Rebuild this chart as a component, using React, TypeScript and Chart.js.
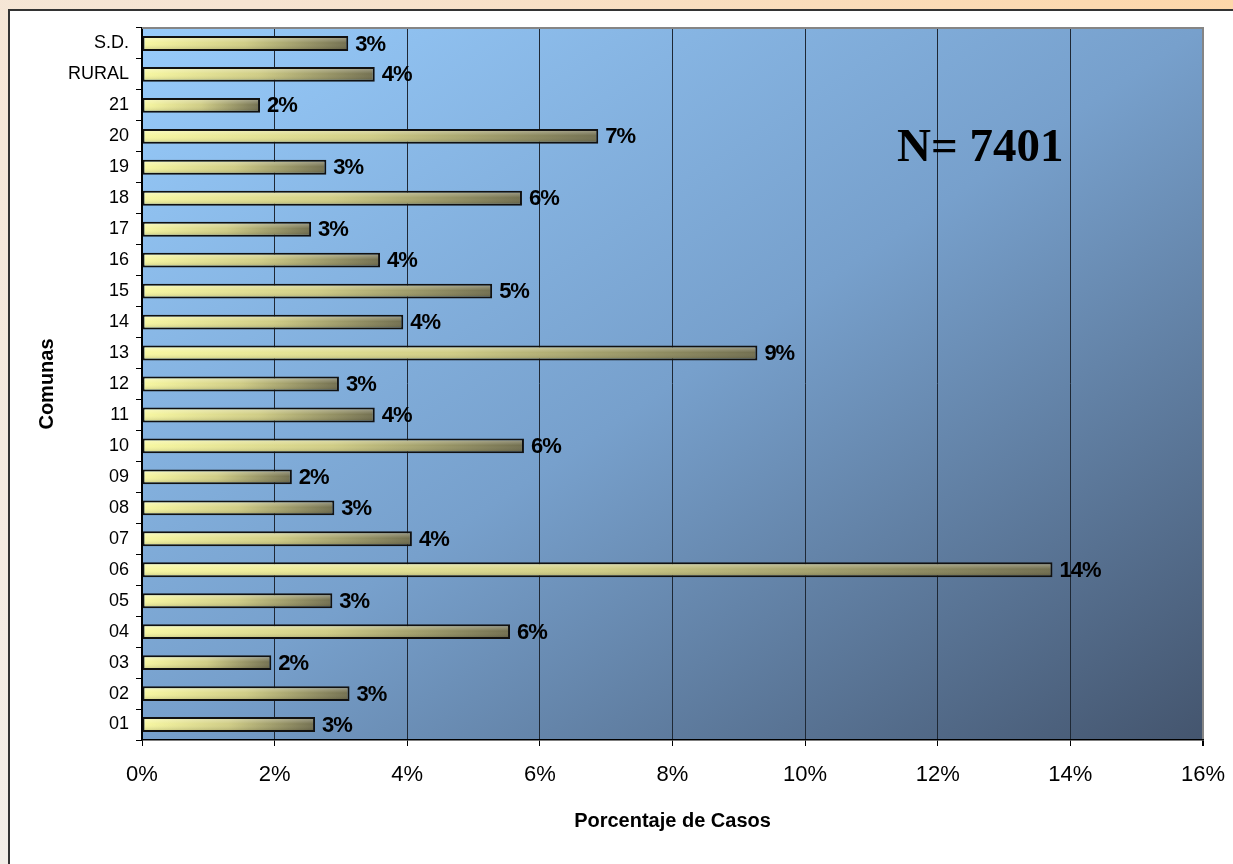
import React, { useEffect, useRef } from "react";
import { Chart, registerables } from "chart.js";

Chart.register(...registerables);

const categories = ["01", "02", "03", "04", "05", "06", "07", "08", "09", "10", "11", "12", "13", "14", "15", "16", "17", "18", "19", "20", "21", "RURAL", "S.D."];
const percentages = [2.61, 3.13, 1.95, 5.55, 2.87, 13.73, 4.07, 2.9, 2.26, 5.76, 3.51, 2.97, 9.28, 3.94, 5.28, 3.59, 2.55, 5.73, 2.78, 6.88, 1.78, 3.51, 3.11];
const xMin = 0;
const xMax = 16;
const xStep = 2;
const xTitle = "Porcentaje de Casos";
const yTitle = "Comunas";
const annotationText = "N= 7401";

const FONT = '"Liberation Sans", Arial, sans-serif';

const plotBgPlugin = {
  id: "plotBg",
  beforeDraw(chart: any) {
    const { ctx, chartArea } = chart;
    const { left, top, right, bottom } = chartArea;
    ctx.save();
    ctx.translate(left, top);
    ctx.scale(right - left, bottom - top);
    const g = ctx.createLinearGradient(0, 0, 1, 1);
    g.addColorStop(0, "#97CBFB");
    g.addColorStop(0.5, "#77A0CC");
    g.addColorStop(1, "#44556E");
    ctx.fillStyle = g;
    ctx.fillRect(0, 0, 1, 1);
    ctx.restore();
  },
  afterDraw(chart: any) {
    const { ctx, chartArea } = chart;
    const { left, top, right } = chartArea;
    ctx.save();
    ctx.strokeStyle = "#858585";
    ctx.lineWidth = 2;
    ctx.beginPath();
    ctx.moveTo(left, top);
    ctx.lineTo(right + 1, top);
    ctx.stroke();
    ctx.restore();
  },
};

const barDecorPlugin = {
  id: "barDecor",
  afterDatasetsDraw(chart: any) {
    const { ctx, chartArea } = chart;
    const meta = chart.getDatasetMeta(0);
    ctx.save();
    meta.data.forEach((bar: any, i: number) => {
      const p = bar.getProps(["x", "y", "base", "height"], true);
      const h = p.height;
      const x0 = Math.min(p.base, p.x) + 2;
      const x1 = Math.max(p.base, p.x) - 2;
      const y0 = p.y - h / 2 + 2;
      const y1 = p.y + h / 2 - 2;
      const g = ctx.createLinearGradient(0, y0, 0, y1);
      g.addColorStop(0, "rgba(255,255,255,0.28)");
      g.addColorStop(0.45, "rgba(255,255,255,0.0)");
      g.addColorStop(1, "rgba(0,0,0,0.12)");
      ctx.fillStyle = g;
      ctx.fillRect(x0, y0, x1 - x0, y1 - y0);

      ctx.fillStyle = "#000";
      ctx.font = `bold 22px ${FONT}`;
      (ctx as any).letterSpacing = "-1px";
      ctx.textAlign = "left";
      ctx.textBaseline = "middle";
      ctx.fillText(Math.round(percentages[i]) + "%", p.x + 7, p.y + 1);
    });
    (ctx as any).letterSpacing = "0px";
    const w = chartArea.right - chartArea.left;
    const hh = chartArea.bottom - chartArea.top;
    ctx.font = 'bold 47px "Liberation Serif", "Times New Roman", serif';
    ctx.textAlign = "center";
    ctx.textBaseline = "middle";
    ctx.fillStyle = "#000";
    ctx.fillText(annotationText, chartArea.left + w * 0.79, chartArea.top + hh * 0.17);
    ctx.restore();
  },
};

export default function App() {
  const canvasRef = useRef<HTMLCanvasElement | null>(null);

  useEffect(() => {
    const canvas = canvasRef.current;
    if (!canvas) return;
    const chart = new Chart(canvas, {
      type: "bar",
      data: {
        labels: categories,
        datasets: [
          {
            data: percentages,
            backgroundColor: (c: any) => {
              const ch = c.chart;
              const area = ch.chartArea;
              if (!area || c.type !== "data" || !ch.scales.x) return "#DAD88C";
              const x0 = ch.scales.x.getPixelForValue(0);
              const x1 = ch.scales.x.getPixelForValue(c.raw);
              const g = ch.ctx.createLinearGradient(x0, 0, x1, 0);
              g.addColorStop(0, "#F8F8A2");
              g.addColorStop(0.5, "#D0CD86");
              g.addColorStop(1, "#726F50");
              return g;
            },
            borderColor: "#111111",
            borderWidth: 2,
            borderSkipped: false,
            barPercentage: 0.48,
            categoryPercentage: 1,
          },
        ],
      },
      options: {
        indexAxis: "y",
        responsive: false,
        animation: false,
        devicePixelRatio: 1,
        layout: { padding: { left: 0, top: 28, right: 30, bottom: 0 } },
        plugins: {
          legend: { display: false },
          tooltip: { enabled: false },
        },
        scales: {
          x: {
            type: "linear",
            min: xMin,
            max: xMax,
            afterFit: (s: any) => {
              s.height = 124;
              s.paddingLeft = 0;
              s.paddingRight = 0;
            },
            ticks: {
              stepSize: xStep,
              color: "#000",
              font: { family: FONT, size: 22 },
              padding: 16,
              callback: (v: any) => v + "%",
            },
            grid: {
              color: (c: any) => {
                if (c.tick && c.tick.value === xMin) return "#000";
                if (c.tick && c.tick.value === xMax) return "#858585";
                return "#1E2835";
              },
              lineWidth: (c: any) => (c.tick && c.tick.value === xMax ? 2 : 1),
              drawTicks: true,
              tickLength: 6,
              tickColor: "#000",
            },
            border: { display: true, color: "#000", width: 1.5 },
            title: {
              display: true,
              text: xTitle,
              color: "#000",
              font: { family: FONT, size: 20, weight: "bold" },
              padding: { top: 0, bottom: 31 },
            },
          },
          y: {
            type: "category",
            reverse: true,
            afterFit: (s: any) => {
              s.width = 142;
            },
            ticks: {
              color: "#000",
              font: { family: FONT, size: 18 },
              padding: 7,
            },
            grid: {
              offset: true,
              drawOnChartArea: false,
              drawTicks: true,
              tickLength: 6,
              color: "#000",
            },
            border: { display: true, color: "#000", width: 1.5 },
            title: {
              display: true,
              text: yTitle,
              color: "#000",
              font: { family: FONT, size: 20, weight: "bold" },
              padding: { top: 35, bottom: 0 },
            },
          },
        },
      },
      plugins: [plotBgPlugin, barDecorPlugin],
    } as any);
    return () => chart.destroy();
  }, []);

  return (
    <div
      style={{
        position: "absolute",
        left: 0,
        top: 0,
        width: 1233,
        height: 864,
        overflow: "hidden",
        background: "linear-gradient(to bottom left, #FDD7AA, #F6E4D2 40%, #F3EEE8)",
      }}
    >
      <div
        style={{
          position: "absolute",
          left: 8,
          top: 9,
          width: 1260,
          height: 900,
          background: "#FFFFFF",
          borderLeft: "2px solid #333333",
          borderTop: "2px solid #333333",
        }}
      />
      <canvas
        ref={canvasRef}
        width={1233}
        height={864}
        style={{ position: "absolute", left: 0, top: 0, width: 1233, height: 864 }}
      />
    </div>
  );
}
